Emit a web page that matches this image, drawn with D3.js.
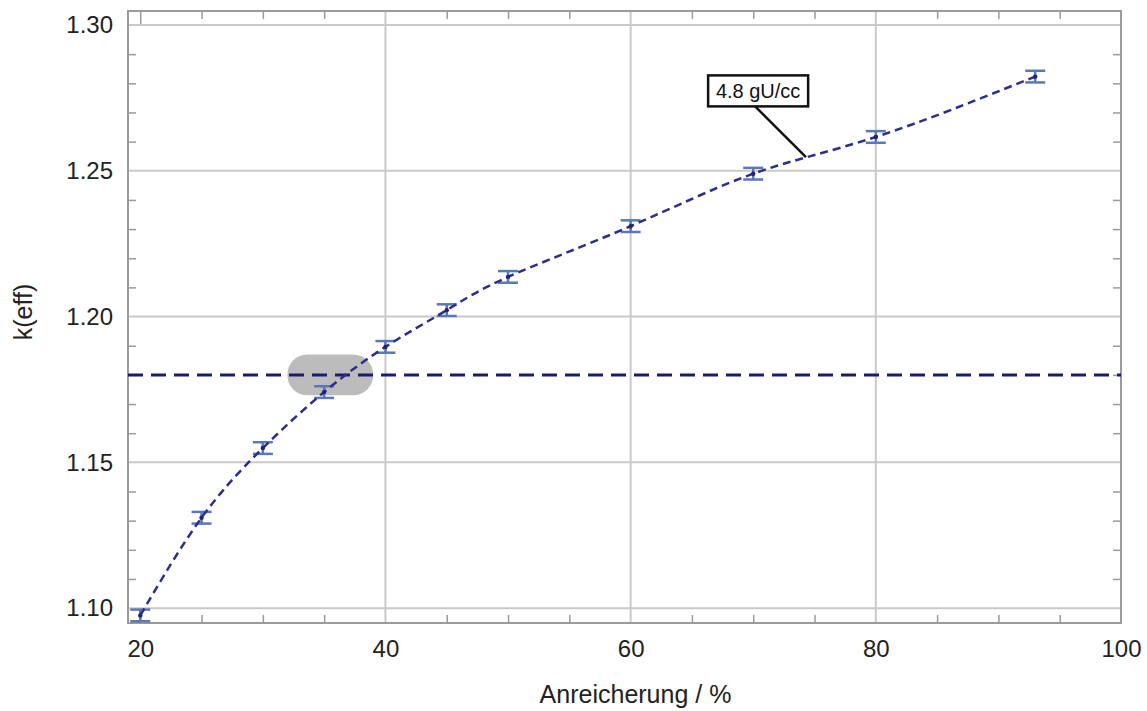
<!DOCTYPE html>
<html>
<head>
<meta charset="utf-8">
<script src="https://cdn.jsdelivr.net/npm/d3@7"></script>
<style>
  body { margin: 0; background: #fff; }
  svg { display: block; font-family: "Liberation Sans", Arial, sans-serif; }
</style>
</head>
<body>
<svg id="chart" width="1147" height="711"></svg>
<script>
// data
var enrich = [20, 25, 30, 35, 40, 45, 50, 60, 70, 80, 93]; // Anreicherung in %
var keff = [1.0975, 1.1310, 1.1549, 1.1741, 1.1896, 1.2022, 1.2136, 1.2310, 1.2490, 1.2616, 1.2823];
var keffErr = [0.002, 0.002, 0.002, 0.002, 0.002, 0.002, 0.002, 0.002, 0.002, 0.002, 0.002];
var xMajor = [20, 40, 60, 80, 100];
var xMinor = [25, 30, 35, 45, 50, 55, 65, 70, 75, 85, 90, 95];
var yMajor = [1.10, 1.15, 1.20, 1.25, 1.30];
var yMinor = [1.11, 1.12, 1.13, 1.14, 1.16, 1.17, 1.18, 1.19, 1.21, 1.22, 1.23, 1.24, 1.26, 1.27, 1.28, 1.29];
var kLimit = 1.18; // horizontal dashed line
var markRange = [32, 39]; // grey marker around the crossing
var annoText = "4.8 gU/cc";
var annoTarget = [74.3, 1.2547];
var annoBox = [70.4, 1.2774];

var svg = d3.select("#chart");
var pLeft = 128, pRight = 1121, pTop = 11, pBottom = 623;

var x = d3.scaleLinear().domain([19, 100]).range([pLeft, pRight]);
var y = d3.scaleLinear().domain([1.0949, 1.3048]).range([pBottom, pTop]);

var gridColor = "#c9c9c9";
var frameColor = "#9a9a9a";

// grid
svg.append("g").selectAll("line")
  .data(yMajor).enter().append("line")
  .attr("x1", pLeft).attr("x2", pRight)
  .attr("y1", d => y(d)).attr("y2", d => y(d))
  .attr("stroke", gridColor).attr("stroke-width", 2);

svg.append("g").selectAll("line")
  .data(xMajor.filter(d => d > 20 && d < 100)).enter().append("line")
  .attr("x1", d => x(d)).attr("x2", d => x(d))
  .attr("y1", pTop).attr("y2", pBottom)
  .attr("stroke", gridColor).attr("stroke-width", 2);

// ticks (inward)
function tickStyle(g) {
  g.select(".domain").remove();
  g.selectAll(".tick line").attr("stroke", frameColor).attr("stroke-width", 1.5);
}
svg.append("g").attr("transform", "translate(0," + pBottom + ")")
  .call(d3.axisBottom(x).tickValues(xMinor).tickSize(-8).tickFormat("")).call(tickStyle);
svg.append("g").attr("transform", "translate(0," + pTop + ")")
  .call(d3.axisTop(x).tickValues(xMinor).tickSize(-8).tickFormat("")).call(tickStyle);
svg.append("g").attr("transform", "translate(0," + pBottom + ")")
  .call(d3.axisBottom(x).tickValues([20]).tickSize(-13).tickFormat("")).call(tickStyle);
svg.append("g").attr("transform", "translate(0," + pTop + ")")
  .call(d3.axisTop(x).tickValues([20]).tickSize(-13).tickFormat("")).call(tickStyle);
svg.append("g").attr("transform", "translate(" + pLeft + ",0)")
  .call(d3.axisLeft(y).tickValues(yMinor).tickSize(-8).tickFormat("")).call(tickStyle);
svg.append("g").attr("transform", "translate(" + pRight + ",0)")
  .call(d3.axisRight(y).tickValues(yMinor).tickSize(-8).tickFormat("")).call(tickStyle);

// tick labels
var xl = svg.append("g").attr("transform", "translate(0," + pBottom + ")")
  .call(d3.axisBottom(x).tickValues(xMajor).tickSize(0).tickPadding(17));
xl.select(".domain").remove();
xl.selectAll("text").attr("font-size", 24).attr("fill", "#222")
  .attr("font-family", "'Liberation Sans', Arial, sans-serif");

var yl = svg.append("g").attr("transform", "translate(" + pLeft + ",0)")
  .call(d3.axisLeft(y).tickValues(yMajor).tickSize(0).tickPadding(15).tickFormat(d3.format(".2f")));
yl.select(".domain").remove();
yl.selectAll("text").attr("font-size", 24).attr("fill", "#222")
  .attr("font-family", "'Liberation Sans', Arial, sans-serif");

// frame
svg.append("rect")
  .attr("x", pLeft).attr("y", pTop)
  .attr("width", pRight - pLeft).attr("height", pBottom - pTop)
  .attr("fill", "none").attr("stroke", frameColor).attr("stroke-width", 2);

// axis titles
svg.append("text")
  .attr("x", (pLeft + pRight) / 2 + 11).attr("y", 703)
  .attr("text-anchor", "middle").attr("font-size", 25).attr("fill", "#222")
  .text("Anreicherung / %");
svg.append("text")
  .attr("transform", "translate(32," + 312 + ") rotate(-90)")
  .attr("text-anchor", "middle").attr("font-size", 25).attr("fill", "#222")
  .text("k(eff)");

// grey marker
svg.append("rect")
  .attr("x", x(markRange[0])).attr("y", y(kLimit + 0.007))
  .attr("width", x(markRange[1]) - x(markRange[0]))
  .attr("height", y(kLimit - 0.007) - y(kLimit + 0.007))
  .attr("rx", 20).attr("ry", 20)
  .attr("fill", "#bcbcbc");

// limit line
svg.append("line")
  .attr("x1", pLeft).attr("x2", pRight)
  .attr("y1", y(kLimit)).attr("y2", y(kLimit))
  .attr("stroke", "#1c1c6c").attr("stroke-width", 3)
  .attr("stroke-dasharray", "15,8");

var pts = enrich.map((d, i) => ({ x: d, y: keff[i], e: keffErr[i] }));

// error bars
var eb = svg.append("g").attr("stroke", "#5a78b6").attr("stroke-width", 2.5);
eb.selectAll(".v").data(pts).enter().append("line")
  .attr("x1", d => x(d.x)).attr("x2", d => x(d.x))
  .attr("y1", d => y(d.y - d.e)).attr("y2", d => y(d.y + d.e));
eb.selectAll(".t").data(pts).enter().append("line")
  .attr("x1", d => x(d.x) - 10).attr("x2", d => x(d.x) + 10)
  .attr("y1", d => y(d.y + d.e)).attr("y2", d => y(d.y + d.e));
eb.selectAll(".b").data(pts).enter().append("line")
  .attr("x1", d => x(d.x) - 10).attr("x2", d => x(d.x) + 10)
  .attr("y1", d => y(d.y - d.e)).attr("y2", d => y(d.y - d.e));

// fitted curve
var line = d3.line().x(d => x(d.x)).y(d => y(d.y)).curve(d3.curveNatural);
svg.append("path").datum(pts)
  .attr("d", line)
  .attr("fill", "none").attr("stroke", "#2d2d8e").attr("stroke-width", 2.5)
  .attr("stroke-dasharray", "8,5");

svg.append("g").selectAll("circle").data(pts).enter().append("circle")
  .attr("cx", d => x(d.x)).attr("cy", d => y(d.y)).attr("r", 2.2)
  .attr("fill", "#23236e");

// annotation
var bw = 100, bh = 31;
var bx = x(annoBox[0]), by = y(annoBox[1]);
svg.append("line")
  .attr("x1", bx - 3).attr("y1", by + bh / 2)
  .attr("x2", x(annoTarget[0])).attr("y2", y(annoTarget[1]))
  .attr("stroke", "#111").attr("stroke-width", 2.5);
svg.append("rect")
  .attr("x", bx - bw / 2).attr("y", by - bh / 2)
  .attr("width", bw).attr("height", bh)
  .attr("fill", "#fff").attr("stroke", "#111").attr("stroke-width", 2.5);
svg.append("text")
  .attr("x", bx).attr("y", by + 7)
  .attr("text-anchor", "middle").attr("font-size", 20).attr("fill", "#111")
  .text(annoText);
</script>
</body>
</html>
